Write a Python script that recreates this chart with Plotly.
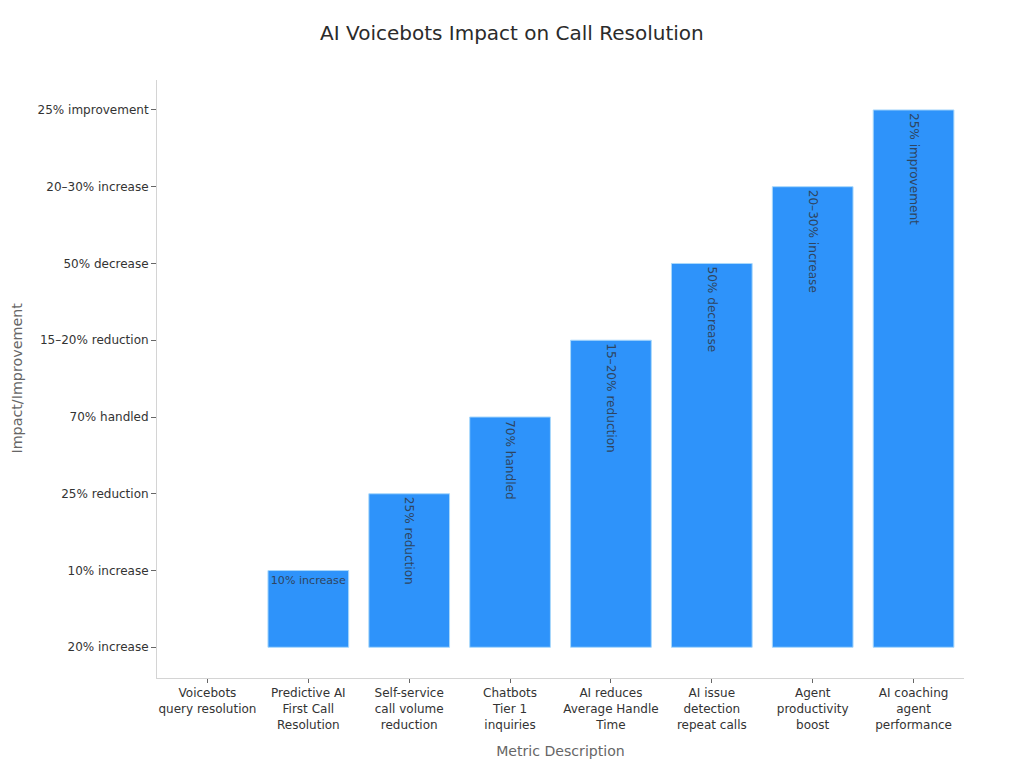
import plotly.graph_objects as go

# Categories and the impact level reached by each metric
metrics = ['Voicebots<br>query resolution', 'Predictive AI<br>First Call<br>Resolution',
           'Self-service<br>call volume<br>reduction', 'Chatbots<br>Tier 1<br>inquiries',
           'AI reduces<br>Average Handle<br>Time', 'AI issue<br>detection<br>repeat calls',
           'Agent<br>productivity<br>boost', 'AI coaching<br>agent<br>performance']
impact = ['20% increase', '10% increase', '25% reduction', '70% handled',
          '15–20% reduction', '50% decrease', '20–30% increase', '25% improvement']
impact_order = ['20% increase', '10% increase', '25% reduction', '70% handled',
                '15–20% reduction', '50% decrease', '20–30% increase', '25% improvement']

fig = go.Figure()

# One trace per bar so the label angle can differ
for i in range(len(metrics)):
    angle = 0 if i == 1 else 90
    fig.add_trace(go.Bar(
        x=[metrics[i]], y=[impact[i]],
        text=[impact[i]] if i > 0 else None,
        textposition='inside', insidetextanchor='end', textangle=angle,
        insidetextfont=dict(family='DejaVu Sans', size=12.1 if i > 1 else 11.1, color='#2f4560'),
        cliponaxis=False, constraintext='none',
        marker=dict(color='#2e93fa', line=dict(color='#a9d8fb', width=1 if i > 0 else 0)),
        showlegend=False))

# the page puts the figure 8px in from the corner, margins allow for that
fig.update_layout(
    barmode='overlay', bargap=0.2, width=1016, height=760,
    title=dict(text='AI Voicebots Impact on Call Resolution', x=0.496, xanchor='center', y=0.976,
               font=dict(family='DejaVu Sans', size=20, color='#2b2b2b')),
    font=dict(family='DejaVu Sans', size=12, color='#333333'),
    paper_bgcolor='white', plot_bgcolor='white',
    margin=dict(l=149, r=60, t=72, b=90))
fig.update_xaxes(categoryorder='array', categoryarray=metrics, range=[-0.5, 7.5], automargin=False,
                 showline=True, linecolor='#d4d4d4', linewidth=1, showgrid=False,
                 ticks='outside', ticklen=4, tickcolor='#666666', tickangle=0,
                 tickfont=dict(size=12, color='#333333'),
                 title=dict(text='Metric Description', standoff=15, font=dict(size=14.1, color='#666666')))
fig.update_yaxes(type='category', categoryorder='array', categoryarray=impact_order, range=[-0.4, 7.39],
                 automargin=False,
                 showline=True, linecolor='#d4d4d4', linewidth=1, showgrid=False,
                 ticks='outside', ticklen=5, tickcolor='#666666',
                 tickfont=dict(size=12, color='#333333'))

# y title as annotation, the axis title would not go far enough left
fig.add_annotation(text='Impact/Improvement', xref='paper', yref='paper', x=-0.174, y=0.5, yshift=1,
                   xanchor='center', yanchor='middle', textangle=-90, showarrow=False,
                   font=dict(size=14.3, color='#666666'))

fig.write_html('out.html')
